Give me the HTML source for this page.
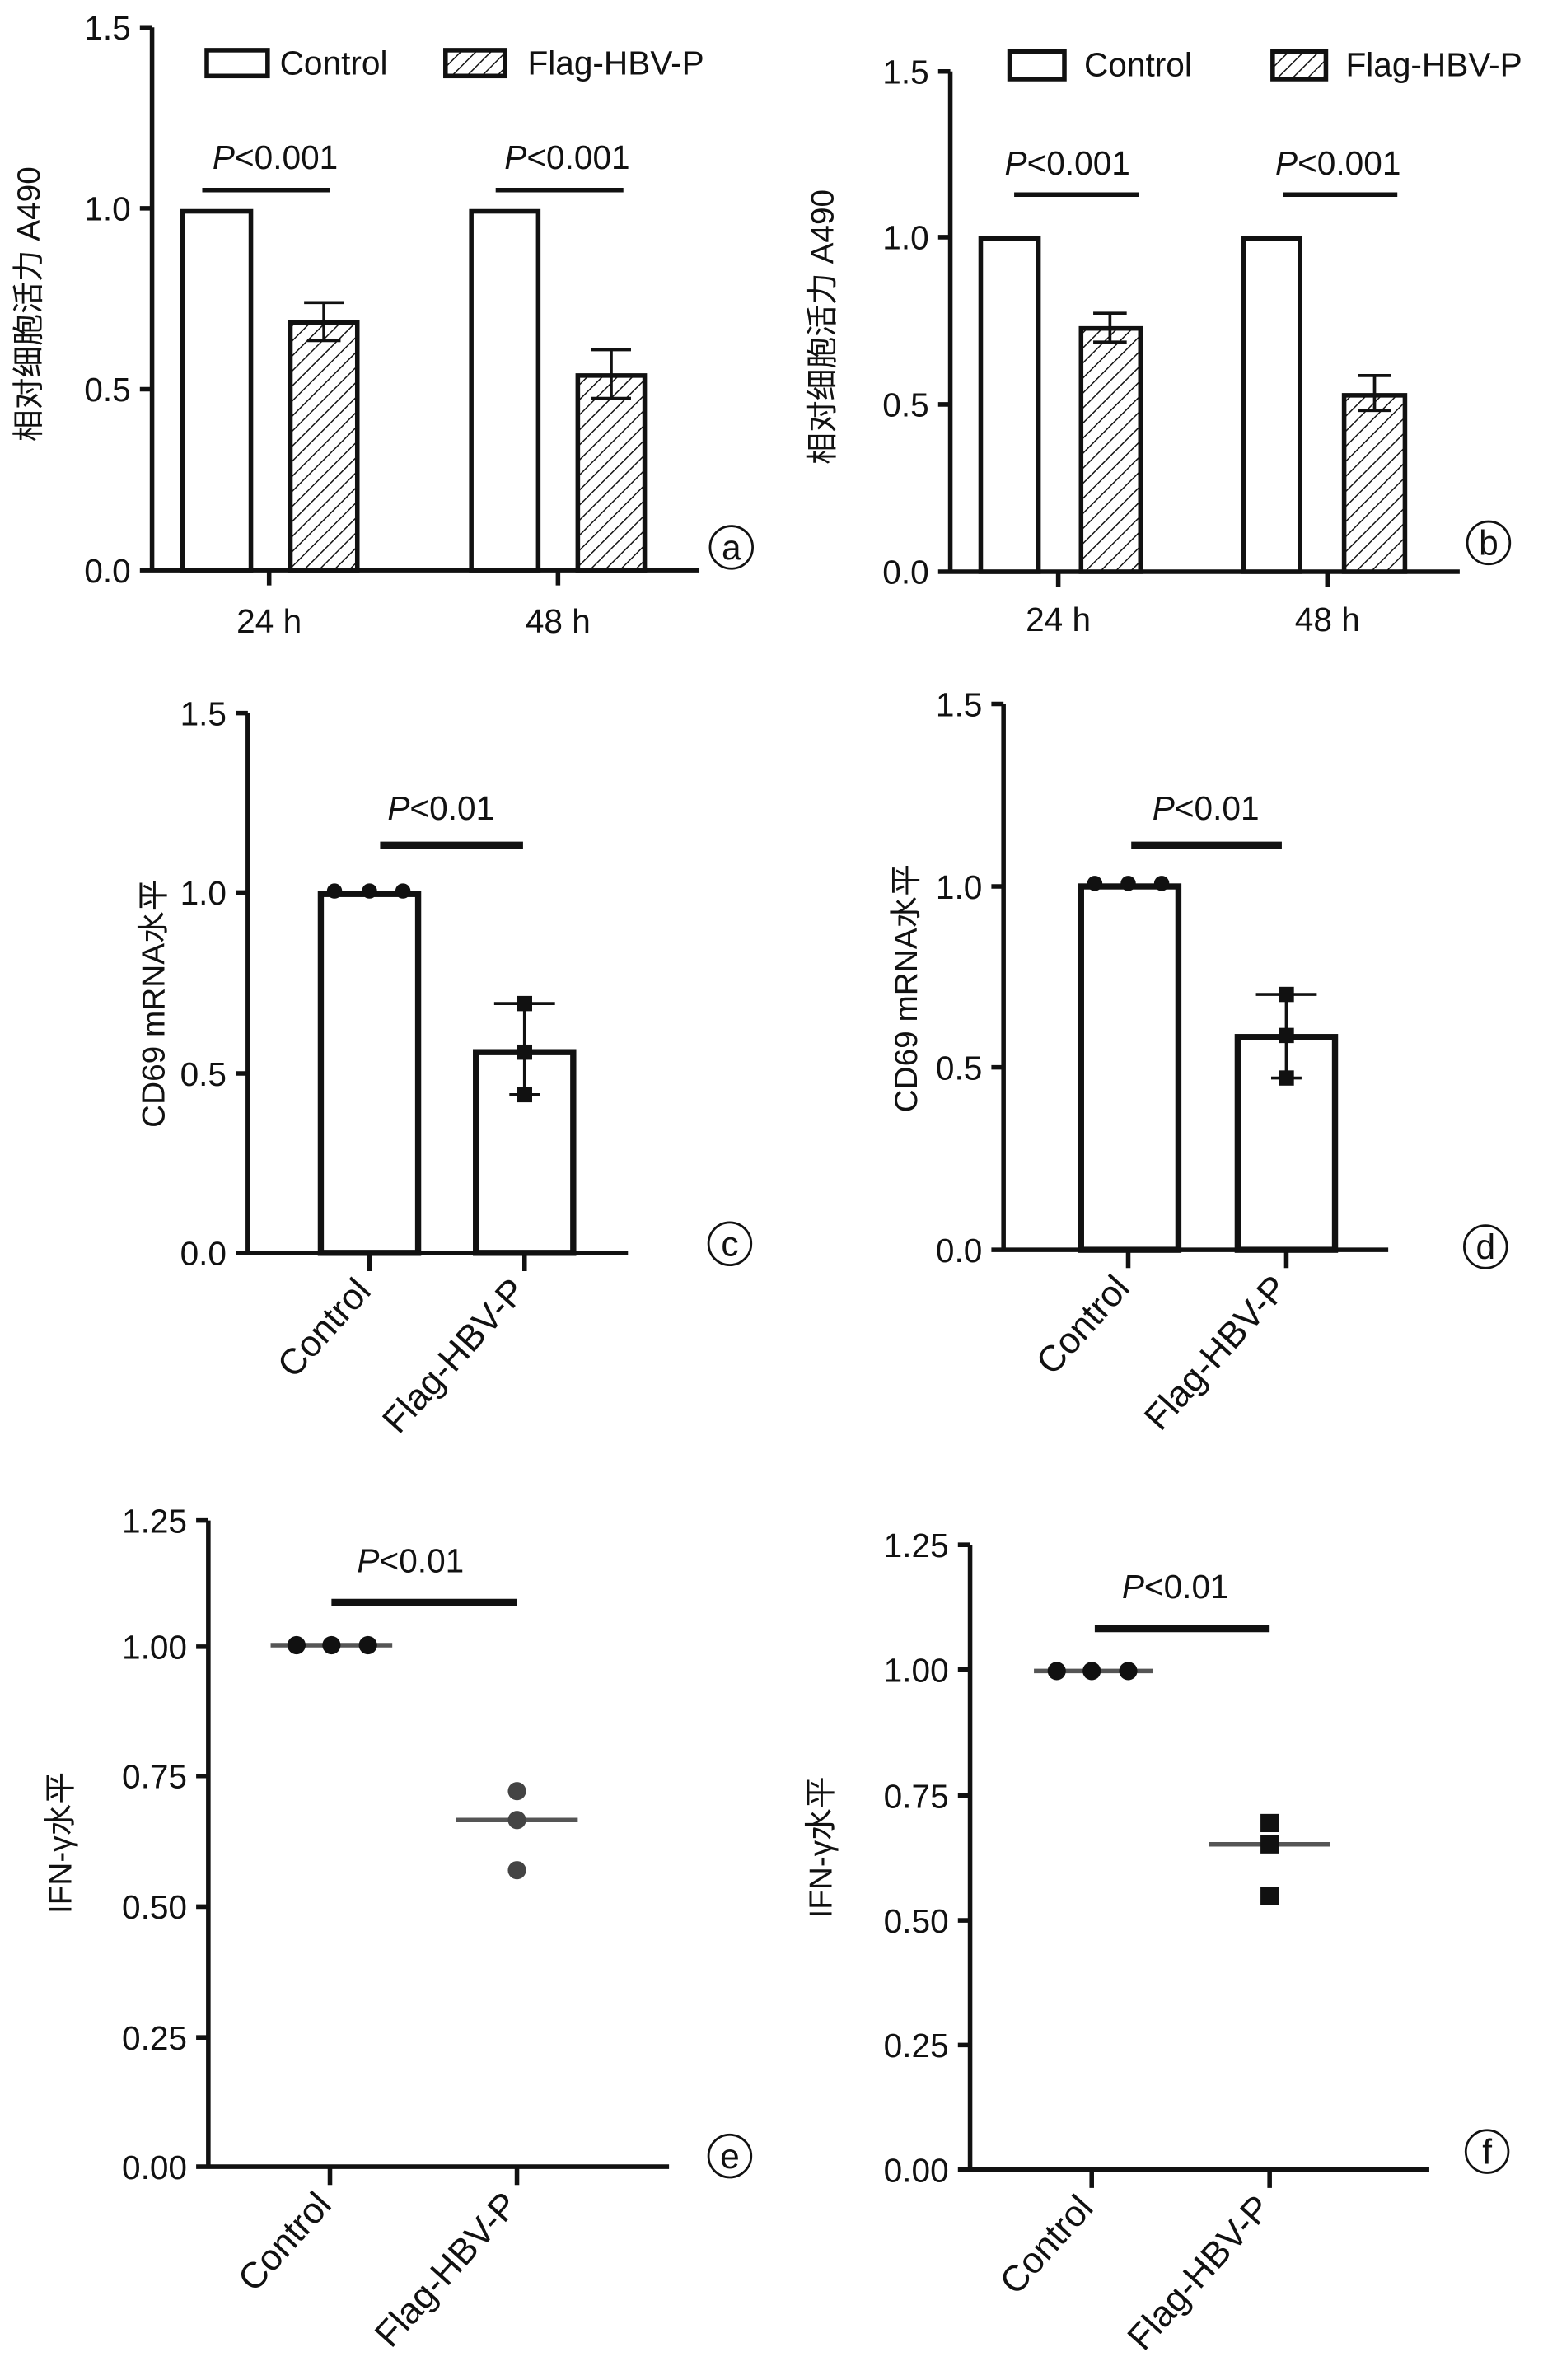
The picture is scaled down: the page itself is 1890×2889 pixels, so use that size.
<!DOCTYPE html>
<html><head><meta charset="utf-8"><style>html,body{margin:0;padding:0;background:#fff}svg{display:block}text{font-family:"Liberation Sans","Noto Sans CJK SC",sans-serif;fill:#111}</style></head><body>
<svg width="1890" height="2889" viewBox="0 0 1024 1565.3" preserveAspectRatio="none" xmlns="http://www.w3.org/2000/svg">
<defs><pattern id="h" width="7" height="7" patternUnits="userSpaceOnUse" patternTransform="rotate(45)"><rect width="7" height="7" fill="#fff"/><line x1="0" y1="0" x2="0" y2="7" stroke="#111" stroke-width="1.6"/></pattern></defs>
<g stroke="#111" stroke-width="3" fill="none">
<path d="M100 18V375H460M92 18H100M92 137H100M92 256H100M92 375H100M177 375V385M367 375V385"/>
<rect x="120" y="139" width="45" height="236" fill="#fff"/>
<rect x="191" y="212" width="44" height="163" fill="url(#h)"/>
<rect x="310" y="139" width="44" height="236" fill="#fff"/>
<rect x="380" y="247" width="44" height="128" fill="url(#h)"/>
<path d="M213 199V224M200 199H226M402 230V262M389 230H415M389 262H415M202 224H224" stroke-width="2"/>
<path d="M133 125H217M326 125H410"/>
<rect x="136" y="33" width="40" height="17" fill="#fff"/><rect x="293" y="33" width="39" height="17" fill="url(#h)"/>
<circle cx="481" cy="360" r="14" stroke-width="1.5"/>
<path d="M625 47V376H960M617 47H625M617 156H625M617 266H625M617 376H625M696 376V386M873 376V386"/>
<rect x="645" y="157" width="38" height="219" fill="#fff"/>
<rect x="711" y="216" width="39" height="160" fill="url(#h)"/>
<rect x="818" y="157" width="37" height="219" fill="#fff"/>
<rect x="884" y="260" width="40" height="116" fill="url(#h)"/>
<path d="M730 206V225M719 206H741M719 225H741M904 247V270M893 247H915M893 270H915" stroke-width="2"/>
<path d="M667 128H749M844 128H919"/>
<rect x="664" y="34" width="36" height="18" fill="#fff"/><rect x="837" y="34" width="35" height="18" fill="url(#h)"/>
<circle cx="979" cy="357" r="14" stroke-width="1.5"/>
<path d="M163 469V824H413M155 469H163M155 587H163M155 706H163M155 824H163M243 824V836M345 824V836"/>
<rect x="211" y="588" width="64" height="236" fill="#fff" stroke-width="4"/>
<rect x="313" y="692" width="64" height="132" fill="#fff" stroke-width="4"/>
<path d="M345 660V720M325 660H365M335 720H355" stroke-width="2"/>
<path d="M250 556H344" stroke-width="5"/>
<circle cx="480" cy="818" r="14" stroke-width="1.5"/>
<path d="M660 463V822H913M652 463H660M652 583H660M652 702H660M652 822H660M742 822V834M846 822V834"/>
<rect x="711" y="583" width="64" height="239" fill="#fff" stroke-width="4"/>
<rect x="814" y="682" width="64" height="140" fill="#fff" stroke-width="4"/>
<path d="M846 654V709M826 654H866M836 709H856" stroke-width="2"/>
<path d="M744 556H843" stroke-width="5"/>
<circle cx="977" cy="820" r="14" stroke-width="1.5"/>
<path d="M137 1000V1425H440M129 1000H137M129 1083H137M129 1168H137M129 1254H137M129 1340H137M129 1425H137M217 1425V1437M340 1425V1437"/>
<path d="M178 1082H258M300 1197H380" stroke="#555"/>
<path d="M218 1054H340" stroke-width="5"/>
<circle cx="480" cy="1418" r="14" stroke-width="1.5"/>
<path d="M638 1016V1427H940M630 1016H638M630 1098H638M630 1181H638M630 1263H638M630 1345H638M630 1427H638M718 1427V1439M835 1427V1439"/>
<path d="M680 1099H758M795 1213H875" stroke="#555"/>
<path d="M720 1071H835" stroke-width="5"/>
<circle cx="978" cy="1415" r="14" stroke-width="1.5"/>
</g>
<g fill="#111">
<circle cx="220" cy="586" r="5"/><circle cx="243" cy="586" r="5"/><circle cx="265" cy="586" r="5"/>
<rect x="340" y="655" width="10" height="10"/><rect x="340" y="687" width="10" height="10"/><rect x="340" y="715" width="10" height="10"/>
<circle cx="720" cy="581" r="5"/><circle cx="742" cy="581" r="5"/><circle cx="764" cy="581" r="5"/>
<rect x="841" y="649" width="10" height="10"/><rect x="841" y="676" width="10" height="10"/><rect x="841" y="704" width="10" height="10"/>
<circle cx="195" cy="1082" r="6"/><circle cx="218" cy="1082" r="6"/><circle cx="242" cy="1082" r="6"/>
<circle cx="340" cy="1178" r="6" fill="#444"/><circle cx="340" cy="1197" r="6" fill="#444"/><circle cx="340" cy="1230" r="6" fill="#444"/>
<circle cx="695" cy="1099" r="6"/><circle cx="718" cy="1099" r="6"/><circle cx="742" cy="1099" r="6"/>
<rect x="829" y="1193" width="12" height="12"/><rect x="829" y="1207" width="12" height="12"/><rect x="829" y="1241" width="12" height="12"/>
</g>
<g font-size="22" text-anchor="end">
<text x="86" y="26">1.5</text><text x="86" y="145">1.0</text><text x="86" y="264">0.5</text><text x="86" y="383">0.0</text>
<text x="611" y="55">1.5</text><text x="611" y="164">1.0</text><text x="611" y="274">0.5</text><text x="611" y="384">0.0</text>
<text x="149" y="477">1.5</text><text x="149" y="595">1.0</text><text x="149" y="714">0.5</text><text x="149" y="832">0.0</text>
<text x="646" y="471">1.5</text><text x="646" y="591">1.0</text><text x="646" y="710">0.5</text><text x="646" y="830">0.0</text>
<text x="123" y="1008">1.25</text><text x="123" y="1091">1.00</text><text x="123" y="1176">0.75</text><text x="123" y="1262">0.50</text><text x="123" y="1348">0.25</text><text x="123" y="1433">0.00</text>
<text x="624" y="1024">1.25</text><text x="624" y="1106">1.00</text><text x="624" y="1189">0.75</text><text x="624" y="1271">0.50</text><text x="624" y="1353">0.25</text><text x="624" y="1435">0.00</text>
</g>
<g font-size="24" text-anchor="end">
<text transform="translate(245,850) rotate(-48)">Control</text><text transform="translate(347,850) rotate(-48)">Flag-HBV-P</text>
<text transform="translate(744,848) rotate(-48)">Control</text><text transform="translate(848,848) rotate(-48)">Flag-HBV-P</text>
<text transform="translate(219,1451) rotate(-48)">Control</text><text transform="translate(342,1451) rotate(-48)">Flag-HBV-P</text>
<text transform="translate(720,1453) rotate(-48)">Control</text><text transform="translate(837,1453) rotate(-48)">Flag-HBV-P</text>
</g>
<g font-size="22" text-anchor="middle">
<text x="177" y="416">24 h</text><text x="367" y="416">48 h</text><text x="696" y="415">24 h</text><text x="873" y="415">48 h</text>
<text x="181" y="111"><tspan font-style="italic">P</tspan>&lt;0.001</text><text x="373" y="111"><tspan font-style="italic">P</tspan>&lt;0.001</text>
<text x="702" y="115"><tspan font-style="italic">P</tspan>&lt;0.001</text><text x="880" y="115"><tspan font-style="italic">P</tspan>&lt;0.001</text>
<text x="290" y="539"><tspan font-style="italic">P</tspan>&lt;0.01</text><text x="793" y="539"><tspan font-style="italic">P</tspan>&lt;0.01</text>
<text x="270" y="1034"><tspan font-style="italic">P</tspan>&lt;0.01</text><text x="773" y="1051"><tspan font-style="italic">P</tspan>&lt;0.01</text>
<text x="481" y="368" font-size="23">a</text><text x="979" y="365" font-size="23">b</text><text x="480" y="826" font-size="23">c</text><text x="977" y="828" font-size="23">d</text><text x="480" y="1426" font-size="23">e</text><text x="978" y="1423" font-size="23">f</text>
<text transform="translate(26,200) rotate(-90)" font-size="21">相对细胞活力 A490</text>
<text transform="translate(548,215) rotate(-90)" font-size="21">相对细胞活力 A490</text>
<text transform="translate(108,660) rotate(-90)" font-size="21">CD69 mRNA水平</text>
<text transform="translate(603,650) rotate(-90)" font-size="21">CD69 mRNA水平</text>
<text transform="translate(47,1212) rotate(-90)" font-size="21">IFN-γ水平</text>
<text transform="translate(547,1215) rotate(-90)" font-size="21">IFN-γ水平</text>
</g>
<g font-size="22"><text x="184" y="49">Control</text><text x="347" y="49">Flag-HBV-P</text><text x="713" y="50">Control</text><text x="885" y="50">Flag-HBV-P</text></g>
</svg>
</body></html>
